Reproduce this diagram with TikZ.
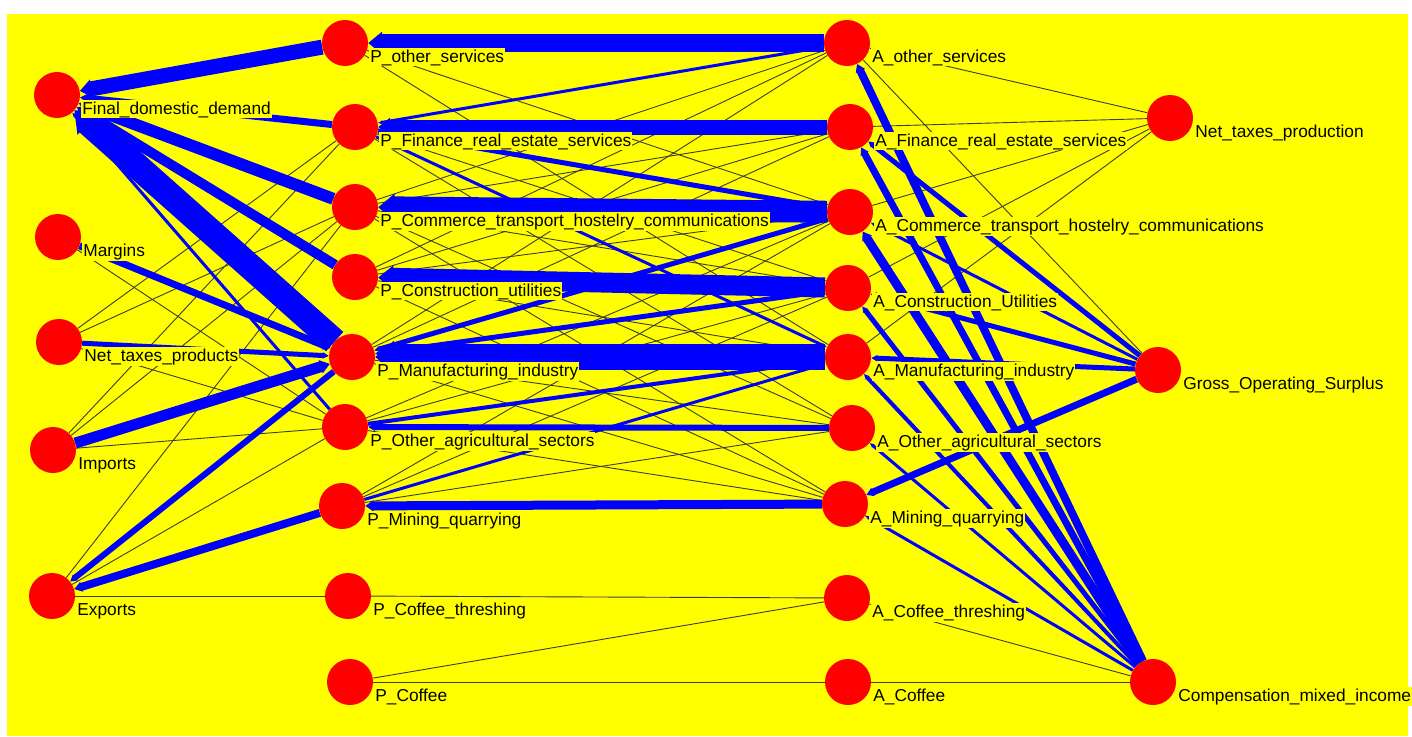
\documentclass[tikz,border=0pt]{standalone}
\usepackage{fontspec}
\newfontfamily\lblfont{Liberation Sans}
\usetikzlibrary{arrows.meta}
\definecolor{bgyellow}{HTML}{FFFF00}
\definecolor{vred}{HTML}{FF0000}
\definecolor{fblue}{HTML}{0000FF}
\definecolor{tgray}{HTML}{3C3C30}
\pgfdeclarelayer{bg}
\pgfdeclarelayer{edges}
\pgfsetlayers{bg,edges,main}

\begin{document}
\begin{tikzpicture}[
  x=1pt,
  y=-1pt,
  vert/.style={circle, fill=vred, minimum size=46pt, inner sep=0pt},
  lbl/.style={font=\lblfont\fontsize{17.3}{20}\selectfont, fill=bgyellow, inner sep=1pt, anchor=base west, xshift=1pt, yshift=-19pt},
  flow/.style={draw=fblue, -{Triangle[length=3pt 0.6, width=0pt 1.2]}},
  tie/.style={draw=tgray, line width=0.9pt}
]
\useasboundingbox (0,0) rectangle (1412,736);
\begin{pgfonlayer}{bg}
\fill[white] (0,0) rectangle (1412,736);
\fill[bgyellow] (7,14) rectangle (1408,736);
\end{pgfonlayer}

% final uses and primary inputs (left)
\node[vert, label={[lbl]0:Final\_domestic\_demand}] (fdd) at (57,95) {};
\node[vert, label={[lbl]0:Margins}] (mrg) at (58,237) {};
\node[vert, label={[lbl]0:Net\_taxes\_products}] (ntp) at (59,342) {};
\node[vert, label={[lbl]0:Imports}] (imp) at (53,450) {};
\node[vert, label={[lbl]0:Exports}] (exp) at (52,596) {};

% products
\node[vert, label={[lbl]0:P\_other\_services}] (pos) at (345,43) {};
\node[vert, label={[lbl]0:P\_Finance\_real\_estate\_services}] (pfin) at (355,127) {};
\node[vert, label={[lbl]0:P\_Commerce\_transport\_hostelry\_communications}] (pcom) at (355,207) {};
\node[vert, label={[lbl]0:P\_Construction\_utilities}] (pcon) at (355,277) {};
\node[vert, label={[lbl]0:P\_Manufacturing\_industry}] (pman) at (352,357) {};
\node[vert, label={[lbl]0:P\_Other\_agricultural\_sectors}] (poag) at (345,427) {};
\node[vert, label={[lbl]0:P\_Mining\_quarrying}] (pmin) at (342,506) {};
\node[vert, label={[lbl]0:P\_Coffee\_threshing}] (pcth) at (348,596) {};
\node[vert, label={[lbl]0:P\_Coffee}] (pcof) at (350,682) {};

% activities
\node[vert, label={[lbl]0:A\_other\_services}] (aos) at (847,43) {};
\node[vert, label={[lbl]0:A\_Finance\_real\_estate\_services}] (afin) at (850,127) {};
\node[vert, label={[lbl]0:A\_Commerce\_transport\_hostelry\_communications}] (acom) at (850,212) {};
\node[vert, label={[lbl]0:A\_Construction\_Utilities}] (acon) at (848,288) {};
\node[vert, label={[lbl]0:A\_Manufacturing\_industry}] (aman) at (848,357) {};
\node[vert, label={[lbl]0:A\_Other\_agricultural\_sectors}] (aoag) at (852,428) {};
\node[vert, label={[lbl]0:A\_Mining\_quarrying}] (amin) at (845,504) {};
\node[vert, label={[lbl]0:A\_Coffee\_threshing}] (acth) at (847,598) {};
\node[vert, label={[lbl]0:A\_Coffee}] (acof) at (848,682) {};

% value added (right)
\node[vert, label={[lbl]0:Net\_taxes\_production}] (ntx) at (1170,118) {};
\node[vert, label={[lbl]0:Gross\_Operating\_Surplus}] (gos) at (1158,370) {};
\node[vert, label={[lbl]0:Compensation\_mixed\_income}] (cmi) at (1153,682) {};

\begin{pgfonlayer}{edges}
% thin links
\draw[tie] (exp) -- (pcom);
\draw[tie] (exp) -- (poag);
\draw[tie] (exp) -- (pcth);
\draw[tie] (imp) -- (pfin);
\draw[tie] (imp) -- (pcom);
\draw[tie] (imp) -- (poag);
\draw[tie] (ntp) -- (pfin);
\draw[tie] (ntp) -- (pcom);
\draw[tie] (ntp) -- (poag);
\draw[tie] (mrg) -- (poag);
\draw[tie] (pcth) -- (acth);
\draw[tie] (acth) -- (pcof);
\draw[tie] (pcof) -- (acof);
\draw[tie] (acof) -- (cmi);
\draw[tie] (acth) -- (cmi);
\draw[tie] (amin) -- (cmi);
\draw[tie] (pos) -- (acom);
\draw[tie] (pos) -- (aman);
\draw[tie] (pfin) -- (acon);
\draw[tie] (pfin) -- (aoag);
\draw[tie] (pcom) -- (aos);
\draw[tie] (pcom) -- (afin);
\draw[tie] (pcom) -- (acon);
\draw[tie] (pcom) -- (aoag);
\draw[tie] (pcom) -- (amin);
\draw[tie] (pcon) -- (aos);
\draw[tie] (pcon) -- (afin);
\draw[tie] (pcon) -- (acom);
\draw[tie] (pcon) -- (aman);
\draw[tie] (pcon) -- (amin);
\draw[tie] (pman) -- (aos);
\draw[tie] (pman) -- (afin);
\draw[tie] (pman) -- (aoag);
\draw[tie] (pman) -- (amin);
\draw[tie] (poag) -- (acom);
\draw[tie] (poag) -- (acon);
\draw[tie] (poag) -- (amin);
\draw[tie] (pmin) -- (acom);
\draw[tie] (pmin) -- (acon);
\draw[tie] (pmin) -- (aoag);
\draw[tie] (ntx) -- (aos);
\draw[tie] (ntx) -- (afin);
\draw[tie] (ntx) -- (acom);
\draw[tie] (ntx) -- (acon);
\draw[tie] (ntx) -- (aman);
\draw[tie] (aos) -- (gos);

% production: activities to products
\draw[flow, line width=18pt] (aos) -- (pos);
\draw[flow, line width=15pt] (afin) -- (pfin);
\draw[flow, line width=22pt] (acom) -- (pcom);
\draw[flow, line width=20pt] (acon) -- (pcon);
\draw[flow, line width=26pt] (aman) -- (pman);
\draw[flow, line width=6pt] (aoag) -- (poag);
\draw[flow, line width=9pt] (amin) -- (pmin);

% products to final uses
\draw[flow, line width=15pt] (pos) -- (fdd);
\draw[flow, line width=7pt] (pfin) -- (fdd);
\draw[flow, line width=12pt] (pcom) -- (fdd);
\draw[flow, line width=10pt] (pcon) -- (fdd);
\draw[flow, line width=26pt] (pman) -- (fdd);
\draw[flow, line width=3pt] (poag) -- (fdd);
\draw[flow, line width=8pt] (pmin) -- (exp);
\draw[flow, line width=6pt] (pman) -- (exp);
\draw[flow, line width=11pt] (imp) -- (pman);
\draw[flow, line width=7pt] (mrg) -- (pman);
\draw[flow, line width=5pt] (ntp) -- (pman);

% intermediate flows
\draw[flow, line width=5pt] (acom) -- (pman);
\draw[flow, line width=5pt] (acon) -- (pman);
\draw[flow, line width=5pt] (pfin) -- (acom);
\draw[flow, line width=3pt] (pfin) -- (aman);
\draw[flow, line width=3pt] (aos) -- (pfin);
\draw[flow, line width=4pt] (poag) -- (aman);
\draw[flow, line width=3pt] (pmin) -- (aman);

% value added to activities
\draw[flow, line width=5pt] (gos) -- (aman);
\draw[flow, line width=5pt] (gos) -- (acon);
\draw[flow, line width=3pt] (gos) -- (acom);
\draw[flow, line width=5pt] (gos) -- (afin);
\draw[flow, line width=7pt] (gos) -- (amin);
\draw[flow, line width=8pt] (cmi) -- (aos);
\draw[flow, line width=7pt] (cmi) -- (afin);
\draw[flow, line width=9pt] (cmi) -- (acom);
\draw[flow, line width=5pt] (cmi) -- (acon);
\draw[flow, line width=4pt] (cmi) -- (aman);
\draw[flow, line width=3pt] (cmi) -- (aoag);
\draw[flow, line width=3pt] (cmi) -- (amin);
\end{pgfonlayer}
\end{tikzpicture}
\end{document}
